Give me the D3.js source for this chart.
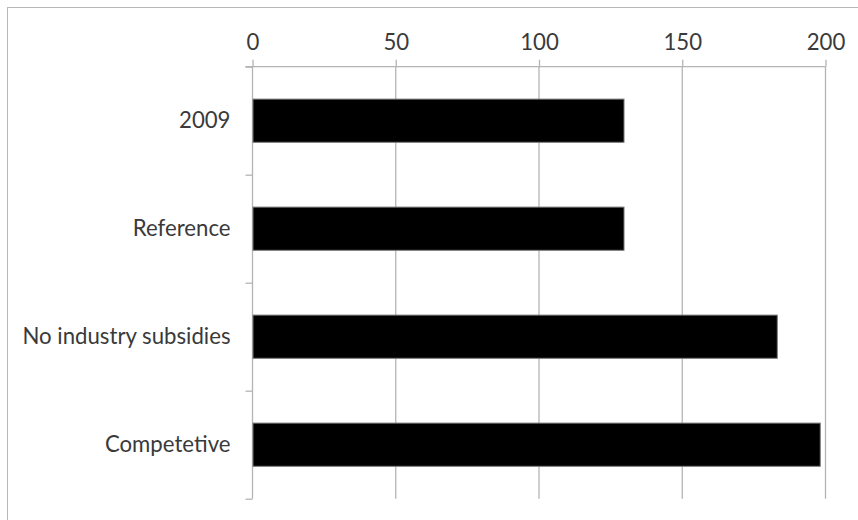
<!DOCTYPE html>
<html>
<head>
<meta charset="utf-8">
<script src="https://cdn.jsdelivr.net/npm/d3@7"></script>
<style>
  html, body { margin: 0; padding: 0; background: #fff; }
  svg { display: block; }
  text { font-family: Lato, "Liberation Sans", sans-serif; fill: #3a3a3a; }
</style>
</head>
<body>
<svg id="chart" width="858" height="520"></svg>
<script>
// Scenario totals
const categories = ["2009", "Reference", "No industry subsidies", "Competetive"];
const values = [129.5, 129.5, 183, 198];
const xTicks = [0, 50, 100, 150, 200];

const svg = d3.select("#chart");
const W = 858, H = 520;
const margin = { top: 66.7, left: 252.5, right: 32.5, bottom: 21.3 };
const gridColor = "#b4b4b4";
const fontSize = 22.2;
const textColor = "#3a3a3a";

// Outer frame (only top and left edges fall inside the view)
svg.append("rect")
  .attr("x", 7.5).attr("y", 7.5)
  .attr("width", W + 20).attr("height", H + 20)
  .attr("fill", "none").attr("stroke", "#b8b8b8").attr("stroke-width", 1);

const x = d3.scaleLinear().domain([0, 200]).range([margin.left, W - margin.right]);
const y = d3.scaleBand().domain(categories)
  .range([margin.top, H - margin.bottom])
  .paddingInner(0.6).paddingOuter(0.3);

// Vertical gridlines
svg.append("g").selectAll("line")
  .data(xTicks.filter(d => d > 0))
  .join("line")
  .attr("x1", d => x(d)).attr("x2", d => x(d))
  .attr("y1", margin.top).attr("y2", H - margin.bottom)
  .attr("stroke", gridColor).attr("stroke-width", 1.3);

// Top value axis
const xAxis = svg.append("g")
  .attr("transform", `translate(0,${margin.top})`)
  .call(d3.axisTop(x).tickValues(xTicks).tickSize(7).tickPadding(10).tickFormat(d3.format("d")));
xAxis.select(".domain").attr("stroke", gridColor).attr("stroke-width", 1.3)
  .attr("d", `M${margin.left - 7},0H${x(200)}`);
xAxis.selectAll(".tick line").attr("stroke", gridColor).attr("stroke-width", 1.3);
xAxis.selectAll(".tick text").attr("font-size", fontSize).attr("fill", textColor)
  .style("font-family", "Lato, 'Liberation Sans', sans-serif");

// Left category axis: tick marks on band boundaries
const edges = d3.scaleLinear().domain([0, categories.length]).range([margin.top, H - margin.bottom]);
const yAxis = svg.append("g")
  .attr("transform", `translate(${margin.left},0)`)
  .call(d3.axisLeft(edges).tickValues(d3.range(categories.length + 1)).tickSize(7).tickFormat(""));
yAxis.select(".domain").attr("stroke", gridColor).attr("stroke-width", 1.3)
  .attr("d", `M0,${margin.top}V${H - margin.bottom}`);
yAxis.selectAll(".tick line").attr("stroke", gridColor).attr("stroke-width", 1.3);

// Category labels
const yLabels = svg.append("g")
  .attr("transform", `translate(${margin.left},0)`)
  .call(d3.axisLeft(y).tickSize(0).tickPadding(22));
yLabels.select(".domain").remove();
yLabels.selectAll(".tick text").attr("font-size", fontSize).attr("fill", textColor)
  .style("font-family", "Lato, 'Liberation Sans', sans-serif");

// Bars
svg.append("g").selectAll("rect")
  .data(categories.map((c, i) => ({ c, v: values[i] })))
  .join("rect")
  .attr("x", x(0) + 0.5)
  .attr("y", d => y(d.c))
  .attr("width", d => x(d.v) - x(0))
  .attr("height", y.bandwidth())
  .attr("fill", "#000")
  .attr("stroke", "#7a7a7a").attr("stroke-width", 1);
</script>
</body>
</html>
